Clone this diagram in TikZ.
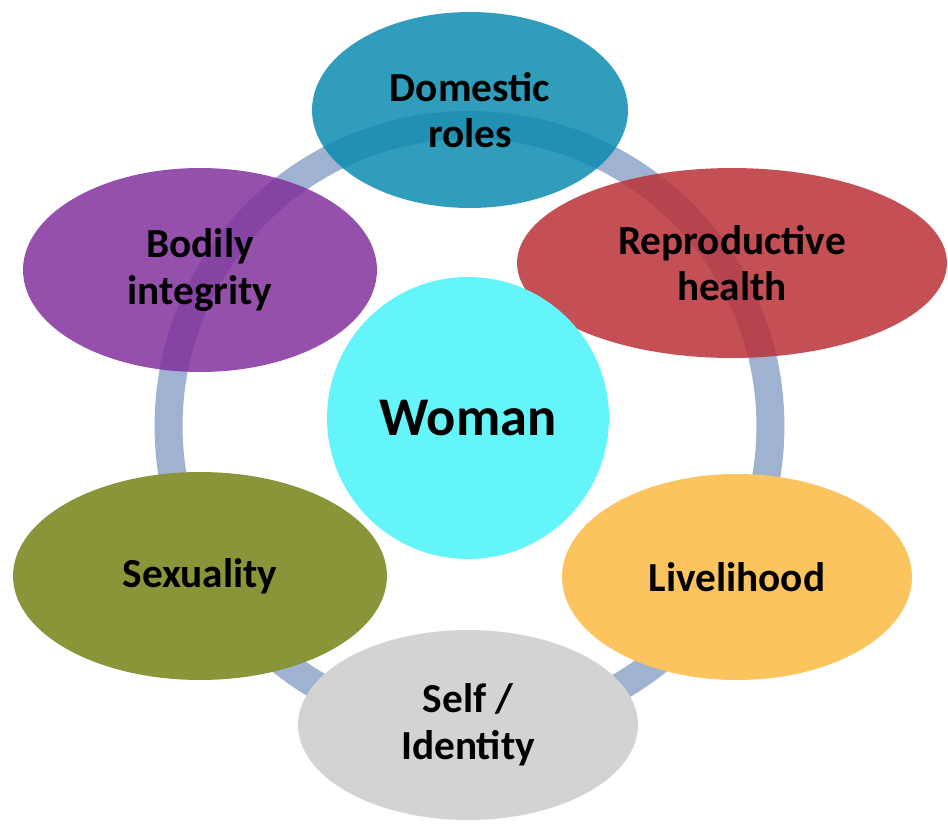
\documentclass[tikz,border=0pt]{standalone}
\usepackage{fontspec}
\setmainfont{Carlito}
\usetikzlibrary{shapes.geometric}

\definecolor{ringblue}{HTML}{A0B2D2}
\definecolor{domteal}{HTML}{0A8CAF}
\definecolor{reprored}{HTML}{BA3138}
\definecolor{bodypurple}{HTML}{81319B}
\definecolor{sexolive}{HTML}{8A9438}
\definecolor{liveorange}{HTML}{FBC45E}
\definecolor{selfgray}{HTML}{D3D3D3}
\definecolor{womancyan}{HTML}{64F5FA}

\begin{document}
\begin{tikzpicture}[x=0.02cm, y=-0.02cm]
        \tikzset{
            ring/.style={draw=ringblue, line width=0.56cm},
            aspect/.style={ellipse, inner sep=0pt, align=center,
                font=\bfseries\fontsize{23.5}{26.5}\selectfont},
            seethrough/.style={aspect, fill opacity=0.85, text opacity=1},
            centre/.style={circle, inner sep=0pt, minimum size=5.64cm,
                fill=womancyan, font=\bfseries\fontsize{31}{34}\selectfont}
        }
        \useasboundingbox (0,0) rectangle (948,832);

        % ring behind everything
        \coordinate (hub) at (469.5,426);
        \draw[ring] (hub) circle (6.02cm);

        \node[seethrough, fill=domteal, minimum width=6.32cm, minimum height=3.92cm]
            (domestic) at (470,110) {Domestic\\roles};
        \node[seethrough, fill=reprored, minimum width=8.6cm, minimum height=3.8cm]
            (repro) at (732,263) {Reproductive\\health};
        \node[seethrough, fill=bodypurple, minimum width=7.08cm, minimum height=4.08cm]
            (bodily) at (200,270) {Bodily\\integrity};
        \node[aspect, fill=sexolive, minimum width=7.48cm, minimum height=4.16cm]
            (sexuality) at (200,576) {Sexuality};
        \node[aspect, fill=liveorange, minimum width=7.0cm, minimum height=4.12cm]
            (livelihood) at (737,577) {Livelihood};
        \node[aspect, fill=selfgray, minimum width=6.8cm, minimum height=3.8cm]
            (self) at (468,725) {{Self /}\\{Identity}};

        \node[centre] (woman) at (468,418) {Woman};
    \end{tikzpicture}
\end{document}
